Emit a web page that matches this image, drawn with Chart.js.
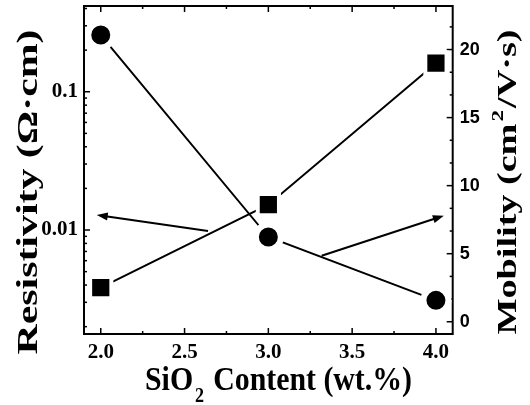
<!DOCTYPE html>
<html><head><meta charset="utf-8">
<script src="https://cdn.jsdelivr.net/npm/chart.js@4.4.0/dist/chart.umd.min.js"></script>
<style>html,body{margin:0;padding:0;background:#fff;}</style>
</head><body>
<canvas id="c" width="530" height="405"></canvas>
<script>
// ---- data ----
const sio2Content   = [2.0, 3.0, 4.0];            // wt.%
const resistivity   = [0.257, 0.0089, 0.0031];    // Ω·cm (left, log)
const mobility      = [2.5, 8.6, 19.0];           // cm²/V·s (right)
const xTickValues   = [2.0, 2.5, 3.0, 3.5, 4.0];
const resTickValues = [0.01, 0.1];
const mobTickValues = [0, 5, 10, 15, 20];
// annotation arrows, in data coordinates of their axes
const arrowToResistivity = {from: [2.64, 0.00984], to: [1.976, 0.01285]};
const arrowToMobility    = {from: [3.318, 4.85],   to: [4.047, 7.79]};

const SERIF = '"Liberation Serif", "Times New Roman", serif';
const SANS  = '"Liberation Sans", Arial, sans-serif';

function minorLog(min, max) {
  const out = [];
  for (let e = -4; e <= 1; e++) for (let m = 2; m < 10; m++) {
    const v = m * Math.pow(10, e);
    if (v >= min && v <= max) out.push(v);
  }
  return out;
}

const framePlugin = {
  id: 'frame',
  beforeDatasetsDraw(chart) {
    const {ctx, chartArea: a, scales} = chart;
    ctx.save();
    ctx.strokeStyle = '#000';
    const line = (x1, y1, x2, y2) => { ctx.beginPath(); ctx.moveTo(x1, y1); ctx.lineTo(x2, y2); ctx.stroke(); };
    ctx.lineWidth = 1.5;
    xTickValues.forEach(v => { const p = scales.x.getPixelForValue(v); line(p, a.bottom, p, a.bottom - 6); line(p, a.top, p, a.top + 6); });
    for (let i = 0; i < xTickValues.length - 1; i++) {
      const v = (xTickValues[i] + xTickValues[i + 1]) / 2, p = scales.x.getPixelForValue(v);
      line(p, a.bottom, p, a.bottom - 3); line(p, a.top, p, a.top + 3);
    }
    const yl = scales.yL;
    resTickValues.forEach(v => { const p = yl.getPixelForValue(v); line(a.left, p, a.left + 6, p); });
    minorLog(yl.min, yl.max).forEach(v => { const p = yl.getPixelForValue(v); line(a.left, p, a.left + 3, p); });
    const yr = scales.yR;
    mobTickValues.forEach(v => { const p = yr.getPixelForValue(v); line(a.right, p, a.right - 6, p); });
    for (let v = 0; v <= yr.max; v += 5) {
      [v + 5 / 3, v + 10 / 3].forEach(m => { if (m < yr.max) { const p = yr.getPixelForValue(m); line(a.right, p, a.right - 3, p); } });
    }
    ctx.lineWidth = 2;
    ctx.strokeRect(a.left, a.top, a.right - a.left, a.bottom - a.top);
    ctx.restore();
  },
  afterDatasetsDraw(chart) {
    const {ctx, scales} = chart;
    const arrow = (sy, ar) => {
      const x1 = scales.x.getPixelForValue(ar.from[0]), y1 = sy.getPixelForValue(ar.from[1]);
      const x2 = scales.x.getPixelForValue(ar.to[0]),   y2 = sy.getPixelForValue(ar.to[1]);
      const ang = Math.atan2(y2 - y1, x2 - x1), L = 11, W = 4;
      ctx.save();
      ctx.strokeStyle = '#000'; ctx.fillStyle = '#000'; ctx.lineWidth = 2;
      ctx.beginPath(); ctx.moveTo(x1, y1);
      ctx.lineTo(x2 - (L - 2) * Math.cos(ang), y2 - (L - 2) * Math.sin(ang)); ctx.stroke();
      ctx.beginPath();
      ctx.moveTo(x2, y2);
      ctx.lineTo(x2 - L * Math.cos(ang) + W * Math.sin(ang), y2 - L * Math.sin(ang) - W * Math.cos(ang));
      ctx.lineTo(x2 - L * Math.cos(ang) - W * Math.sin(ang), y2 - L * Math.sin(ang) + W * Math.cos(ang));
      ctx.closePath(); ctx.fill();
      ctx.restore();
    };
    arrow(scales.yL, arrowToResistivity);
    arrow(scales.yR, arrowToMobility);
  }
};

function drawTitle(ctx, parts, cx, cy, rot, length) {
  ctx.save();
  let W = 0;
  parts.forEach(p => { ctx.font = 'bold ' + p.size + 'px ' + SERIF; p.w = ctx.measureText(p.t).width; W += p.w + (p.gap || 0); });
  ctx.translate(cx, cy);
  ctx.rotate(rot);
  ctx.scale(length / W, 1);
  ctx.fillStyle = '#000';
  ctx.textBaseline = 'alphabetic';
  ctx.textAlign = 'left';
  let x = -W / 2;
  parts.forEach(p => {
    x += (p.gap || 0) / 2;
    ctx.font = 'bold ' + p.size + 'px ' + SERIF;
    ctx.fillText(p.t, x, p.dy || 0);
    x += p.w + (p.gap || 0) / 2;
  });
  ctx.restore();
}

const titlePlugin = {
  id: 'titles',
  afterDraw(chart) {
    const ctx = chart.ctx;
    drawTitle(ctx, [{t: 'SiO', size: 33}, {t: '2', size: 20, dy: 12, gap: 4}, {t: ' Content (wt.%)', size: 33}], 278.5, 390, 0, 267);
    drawTitle(ctx, [{t: 'Resistivity (Ω·cm)', size: 30}], 37, 192, -Math.PI / 2, 325);
    drawTitle(ctx, [{t: 'Mobility (cm', size: 28}, {t: '2', size: 17, dy: -13, gap: 3}, {t: '/V·s)', size: 28}], 516, 182, -Math.PI / 2, 305);
  }
};

const noPadV = s => { s.paddingTop = 0; s.paddingBottom = 0; };

new Chart(document.getElementById('c'), {
  type: 'line',
  data: {
    datasets: [
      {
        label: 'Resistivity',
        data: sio2Content.map((x, i) => ({x, y: resistivity[i]})),
        yAxisID: 'yL',
        borderColor: '#000', borderWidth: 2,
        pointStyle: 'circle', pointRadius: 12.5, pointBorderWidth: 6,
        pointBackgroundColor: '#000', pointBorderColor: '#fff', tension: 0
      },
      {
        label: 'Mobility',
        data: sio2Content.map((x, i) => ({x, y: mobility[i]})),
        yAxisID: 'yR',
        borderColor: '#000', borderWidth: 2,
        pointStyle: 'rect', pointRadius: 15, pointBorderWidth: 4,
        pointBackgroundColor: '#000', pointBorderColor: '#fff', tension: 0
      }
    ]
  },
  options: {
    responsive: false,
    animation: false,
    devicePixelRatio: 1,
    layout: {autoPadding: false, padding: {top: 6, left: 0, right: 0, bottom: 0}},
    plugins: {legend: {display: false}, tooltip: {enabled: false}},
    scales: {
      x: {
        type: 'linear', min: 1.9, max: 4.1,
        grid: {display: false, drawTicks: false}, border: {display: false},
        afterBuildTicks: s => { s.ticks = xTickValues.map(v => ({value: v})); },
        afterFit: s => { s.height = 71; s.paddingLeft = 0; s.paddingRight = 0; },
        ticks: {padding: 6, color: '#000', font: {family: SERIF, size: 21, weight: 'bold'}, callback: v => v.toFixed(1), maxRotation: 0}
      },
      yL: {
        type: 'logarithmic', position: 'left', min: 0.00177, max: 0.417,
        grid: {display: false, drawTicks: false}, border: {display: false},
        afterBuildTicks: s => { s.ticks = resTickValues.map(v => ({value: v})); },
        afterFit: s => { s.width = 84; noPadV(s); },
        ticks: {padding: 6, color: '#000', font: {family: SERIF, size: 21, weight: 'bold'}, callback: v => String(v)}
      },
      yR: {
        type: 'linear', position: 'right', min: -0.9, max: 23.2,
        grid: {display: false, drawTicks: false}, border: {display: false},
        afterBuildTicks: s => { s.ticks = mobTickValues.map(v => ({value: v})); },
        afterFit: s => { s.width = 77.3; noPadV(s); },
        ticks: {padding: 7, color: '#000', font: {family: SANS, size: 18, weight: 'bold'}, callback: v => String(v)}
      }
    }
  },
  plugins: [framePlugin, titlePlugin]
});
</script>
</body></html>
